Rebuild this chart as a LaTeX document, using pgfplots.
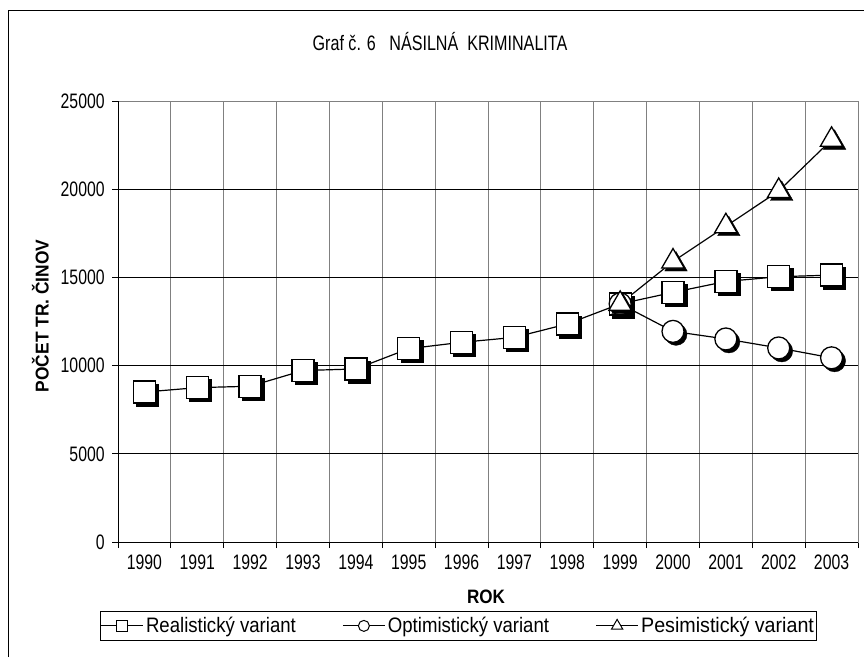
\documentclass[border=0pt]{standalone}
\usepackage{graphicx}
\usepackage{pgfplots}
\pgfplotsset{compat=1.18}
\usepackage{pgfplotstable}
\usepackage{fontspec}
\setmainfont{Liberation Sans}
\definecolor{gridgray}{HTML}{808080}
\newcommand{\sx}[1]{\scalebox{1.02}[1.35]{#1}}
\newcommand{\lx}[1]{\scalebox{1.2}[1.35]{#1}}

\pgfplotstableread{
x y
0 8500
1 8750
2 8830
3 9720
4 9810
5 10960
6 11320
7 11600
8 12360
9 13500
10 14150
11 14770
12 15040
13 15130
}\real
\pgfplotstableread{
x y
9 13500
10 11940
11 11510
12 11000
13 10440
}\opt
\pgfplotstableread{
x y
9 13500
10 15900
11 17900
12 19900
13 22800
}\pes

\begin{document}
\begin{tikzpicture}
\fontsize{15.5}{18}\selectfont
\draw[black, line width=1pt] (8pt,0pt) -- (8pt,646pt) -- (864pt,646pt);
\begin{axis}[
  at={(118pt,115pt)}, anchor=south west,
  width=740pt, height=441pt, scale only axis,
  xmin=-0.5, xmax=13.5, ymin=0, ymax=25000,
  xtick={0,...,13},
  xticklabels={\sx{1990},\sx{1991},\sx{1992},\sx{1993},\sx{1994},\sx{1995},\sx{1996},\sx{1997},\sx{1998},\sx{1999},\sx{2000},\sx{2001},\sx{2002},\sx{2003}},
  minor xtick={-0.5,0.5,...,13.5},
  ytick={0,5000,...,25000},
  yticklabels={\sx{0},\sx{5000},\sx{10000},\sx{15000},\sx{20000},\sx{25000}},
  scaled y ticks=false,
  major x tick style={draw=none},
  tick align=outside,
  major tick length=6pt, minor tick length=6pt,
  tick style={black, line width=1pt},
  xminorgrids, ymajorgrids,
  minor x grid style={gridgray, line width=1pt},
  major y grid style={black, line width=0.8pt},
  axis line style={gridgray, line width=1pt},
  xtick pos=bottom, ytick pos=left,
  xticklabel shift=2pt,
  yticklabel shift=2pt,
  ticklabel style={font=\fontsize{15.5}{18}\selectfont},
  clip=false,
  legend columns=3,
  legend style={at={(axis description cs:-0.0243,-0.1565)}, anchor=north west,
    draw=black, line width=1pt, font=\fontsize{15.5}{18}\selectfont,
    inner xsep=0pt, inner ysep=2pt,
    nodes={inner xsep=2.5pt, inner ysep=3.5pt},
    /tikz/every even column/.append style={column sep=44pt}},
  legend image code/.code={\draw[mark repeat=2,mark phase=2, line width=1pt] plot coordinates {(0pt,0pt) (21pt,0pt) (42pt,0pt)};},
]
\draw[black, line width=1pt] (rel axis cs:0,0) -- (rel axis cs:0,1);
\draw[black, line width=1pt] (rel axis cs:0,0) -- (rel axis cs:1,0);
% lines
\addplot[forget plot, black, line width=1.2pt, mark=none] table[x=x,y=y] {\real};
\addplot[forget plot, black, line width=1.2pt, mark=none] table[x=x,y=y] {\opt};
\addplot[forget plot, black, line width=1.2pt, mark=none] table[x=x,y=y] {\pes};
% realistic
\addplot[forget plot, only marks, mark=square*, mark size=11pt, black, mark options={fill=black, draw=black, xshift=3pt, yshift=-3pt}] table[x=x,y=y] {\real};
\addplot[forget plot, only marks, mark=square*, mark size=11pt, black, mark options={fill=white, draw=black, line width=1.3pt}] table[x=x,y=y] {\real};
% optimistic
\addplot[forget plot, only marks, mark=*, mark size=11pt, black, mark options={fill=black, draw=black, xshift=3pt, yshift=-3pt}] table[x=x,y=y] {\opt};
\addplot[forget plot, only marks, mark=*, mark size=11pt, black, mark options={fill=white, draw=black, line width=1.3pt}] table[x=x,y=y] {\opt};
% pessimistic
\addplot[forget plot, only marks, mark=triangle*, mark size=13pt, black, mark options={fill=black, draw=black, xshift=3pt, yshift=-3pt}] table[x=x,y=y] {\pes};
\addplot[forget plot, only marks, mark=triangle*, mark size=13pt, black, mark options={fill=white, draw=black, line width=1.3pt}] table[x=x,y=y] {\pes};
\addlegendimage{black, mark=square*, mark size=5.5pt, mark options={fill=white, line width=1pt}}
\addlegendentry{\lx{Realistický variant}}
\addlegendimage{black, mark=*, mark size=5.5pt, mark options={fill=white, line width=1pt}}
\addlegendentry{\lx{Optimistický variant}}
\addlegendimage{black, mark=triangle*, mark size=6.5pt, mark options={fill=white, line width=1pt}}
\addlegendentry{\scalebox{1.27}[1.35]{Pesimistický variant}\hspace{10pt}}
\end{axis}
\node at (440pt,615pt) {\scalebox{1.04}[1.35]{Graf č. 6\ \ \ NÁSILNÁ\ \ KRIMINALITA}};
\node[font=\bfseries\fontsize{15.5}{18}\selectfont] at (486pt,60pt) {\scalebox{1.1}[1.25]{ROK}};
\node[rotate=90, font=\bfseries\fontsize{15.5}{18}\selectfont] at (40.5pt,341pt) {\scalebox{1.12}[1.2]{POČET TR. ČINOV}};
\pgfresetboundingbox
\useasboundingbox (0pt,0pt) rectangle (864pt,657pt);
\end{tikzpicture}
\end{document}
